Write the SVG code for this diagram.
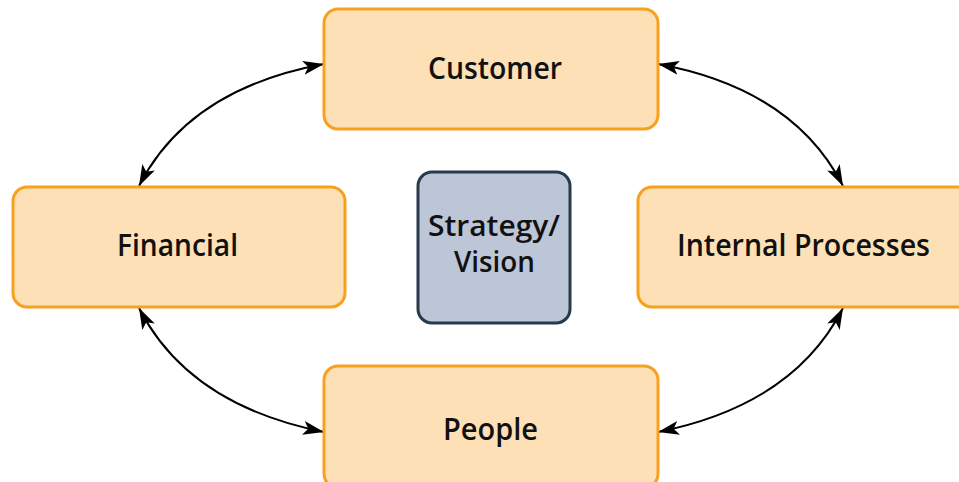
<svg xmlns="http://www.w3.org/2000/svg" width="959" height="482" viewBox="0 0 959 482">
  <defs>
    <marker id="head" viewBox="0 0 21 14" refX="21" refY="7" markerWidth="21" markerHeight="14" markerUnits="userSpaceOnUse" orient="auto-start-reverse">
      <path d="M0,0 L21,7 L0,14 L5,7 Z" fill="#000"/>
    </marker>
  </defs>
  <style>
    .box { fill: #fde0b6; stroke: #f7a11e; stroke-width: 3; }
    .core { fill: #bdc6d7; stroke: #263a4c; stroke-width: 3; }
    .label { font-family: "Open Sans", "Liberation Sans", sans-serif; font-weight: 600; font-size: 31px; fill: #111; text-anchor: middle; }
    .small { font-size: 28px; }
    .link { fill: none; stroke: #000; stroke-width: 2; marker-start: url(#head); marker-end: url(#head); }
  </style>
  <rect width="959" height="482" fill="#fff"/>

  <g id="links">
    <path class="link" d="M324,64 Q188.5,89 139,186"/>
    <path class="link" d="M658,64 Q793.5,89 843,186"/>
    <path class="link" d="M139,308 Q188.5,405 324,432"/>
    <path class="link" d="M843,308 Q793.5,405 658,432"/>
  </g>

  <g id="customer">
    <rect class="box" x="324" y="9" width="334" height="120" rx="14"/>
    <text class="label" x="495" y="79" textLength="134" lengthAdjust="spacingAndGlyphs">Customer</text>
  </g>

  <g id="financial">
    <rect class="box" x="13" y="187" width="332" height="120" rx="14"/>
    <text class="label" x="177.5" y="256" textLength="121" lengthAdjust="spacingAndGlyphs">Financial</text>
  </g>

  <g id="internal-processes">
    <rect class="box" x="638" y="187" width="340" height="120" rx="14"/>
    <text class="label" x="803.5" y="256" textLength="253" lengthAdjust="spacingAndGlyphs">Internal Processes</text>
  </g>

  <g id="people">
    <rect class="box" x="324" y="366" width="334" height="122" rx="14"/>
    <text class="label" x="490.5" y="440" textLength="95" lengthAdjust="spacingAndGlyphs">People</text>
  </g>

  <g id="strategy-vision">
    <rect class="core" x="418" y="172" width="152" height="151" rx="14"/>
    <text class="label small" x="494" y="236" textLength="132" lengthAdjust="spacingAndGlyphs">Strategy/</text>
    <text class="label small" x="494.5" y="272" textLength="81" lengthAdjust="spacingAndGlyphs">Vision</text>
  </g>
</svg>
